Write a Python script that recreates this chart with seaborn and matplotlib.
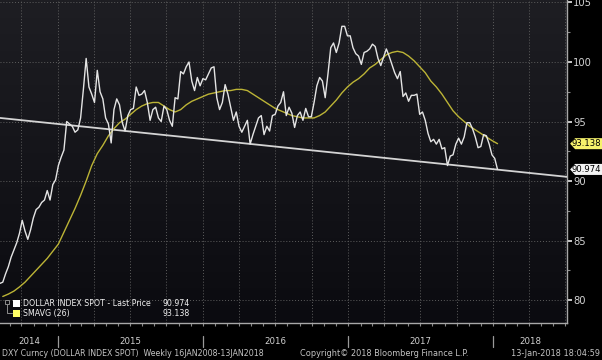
import numpy as np
import pandas as pd
import matplotlib
matplotlib.use("Agg")
import matplotlib.pyplot as plt
import matplotlib.dates as mdates
from matplotlib.path import Path
from matplotlib.patches import Rectangle
from matplotlib.lines import Line2D
from matplotlib.colors import LinearSegmentedColormap
from matplotlib.ticker import NullFormatter
import seaborn as sns

# ---------------- data ----------------
price_start = "2014-08-08"          # weekly closes, Fridays
price_2014 = [81.4, 81.5, 82.2, 82.8, 83.6, 84.2, 84.8, 85.6, 86.7, 85.8, 85.1,
              85.9, 86.9, 87.6, 87.8, 88.2, 88.4, 89.2, 88.4, 89.7, 90.1]
price_2015 = [91.3, 92.0, 92.6, 95.0, 94.8,
              94.6, 94.1, 94.3, 95.3,
              97.7, 100.3, 97.9, 97.3,
              96.6, 99.3, 97.5, 96.9,
              95.3, 94.8, 93.2, 96.0, 96.9,
              96.4, 94.9, 94.2, 95.5,
              96.0, 96.1, 97.9, 97.2, 97.3,
              97.6, 96.6, 95.1, 96.0,
              96.2, 95.3, 95.0, 96.3,
              96.0, 95.1, 94.6, 97.0, 96.9,
              99.2, 99.0, 99.6, 100.0,
              98.4, 97.6, 98.7, 98.0]
price_2016 = [98.6, 98.5, 99.0, 99.5, 99.6,
              97.0, 96.0, 96.6, 98.1,
              97.3, 96.2, 95.1, 95.8,
              94.6, 94.1, 94.6, 95.1, 93.1,
              93.9, 94.6, 95.3, 95.5,
              93.9, 94.6, 94.2, 95.5,
              95.6, 96.3, 96.6, 97.5, 95.5,
              96.2, 95.7, 94.5, 95.5,
              95.8, 95.1, 96.1, 95.4, 95.4,
              96.6, 98.0, 98.7, 98.4,
              97.0, 99.0, 101.2, 101.6,
              100.8, 101.6, 103.0, 103.0, 102.2]
price_2017 = [102.2, 101.2, 100.7, 100.5,
              99.8, 100.8, 100.9, 101.1,
              101.5, 101.3, 100.3, 99.7, 100.4,
              101.1, 100.5, 99.8, 99.1,
              98.6, 99.2, 97.1, 97.4,
              96.7, 97.2, 97.2, 97.3, 95.6,
              95.8, 95.1, 94.0, 93.3,
              93.5, 93.1, 93.5, 92.7,
              92.8, 91.3, 92.1, 92.2, 93.1,
              93.6, 93.1, 93.7, 94.9,
              94.9, 94.4, 93.7, 92.8,
              92.9, 93.9, 93.8, 93.1, 92.2]
price_2018 = [91.9, 90.974]

sma_start = "2014-08-15"            # SMAVG(26), read every second week
sma_values = [80.3, 80.5, 80.75, 81.1, 81.5, 82.0, 82.5, 83.0, 83.5, 84.1,
              84.7, 85.7, 86.7, 87.7, 88.8, 90.0, 91.3, 92.3, 93.0, 93.8,
              94.4, 94.9, 95.2, 95.6, 96.0, 96.3, 96.5, 96.6, 96.6, 96.3,
              96.0, 95.8, 96.0, 96.4, 96.7, 96.9, 97.1, 97.3, 97.4, 97.5,
              97.6, 97.6, 97.7, 97.7, 97.6, 97.3, 97.0, 96.7, 96.4, 96.1,
              95.9, 95.7, 95.5, 95.4, 95.3, 95.3, 95.3, 95.5, 95.8, 96.3,
              96.8, 97.4, 97.9, 98.3, 98.6, 99.0, 99.5, 99.8, 100.2, 100.6,
              100.8, 100.9, 100.8, 100.5, 100.1, 99.6, 99.1, 98.4, 97.9, 97.3,
              96.6, 95.9, 95.4, 95.0, 94.6, 94.3, 94.0, 93.7, 93.4, 93.138]

trend_dates = ["2014-08-08", "2018-07-06"]
trend_values = [95.3, 90.35]

x_range = ["2014-08-08", "2018-07-06"]
y_range = [78.07, 105.21]
year_labels = ["2014", "2015", "2016", "2017", "2018"]
y_ticks = [80, 85, 90, 95, 100, 105]
y_minor_ticks = [82.5, 87.5, 92.5, 97.5, 102.5]

legend_labels = ["DOLLAR INDEX SPOT - Last Price", "SMAVG (26)"]
footer_left = "DXY Curncy (DOLLAR INDEX SPOT)  Weekly 16JAN2008-13JAN2018"
footer_mid = "Copyright\u00a9 2018 Bloomberg Finance L.P."
footer_right = "13-Jan-2018 18:04:59"

# ---------------- styling ----------------
sns.set_style("dark", {"axes.facecolor": "none", "figure.facecolor": "black"})
plt.rcParams["font.family"] = ["DejaVu Sans"]

PRICE_C = "#e4e4e4"
SMA_C = "#bcb436"
TREND_C = "#d4d4d4"
TXT_C = "#d2d2d2"

price = price_2014 + price_2015 + price_2016 + price_2017 + price_2018
df_price = pd.DataFrame({"date": pd.date_range(price_start, periods=len(price), freq="7D"),
                         "value": price})
df_sma = pd.DataFrame({"date": pd.date_range(sma_start, periods=len(sma_values), freq="14D"),
                       "value": sma_values})
df_trend = pd.DataFrame({"date": pd.to_datetime(trend_dates), "value": trend_values})

W, H = 602, 360
fig = plt.figure(figsize=(W / 100, H / 100), dpi=100)
fig.patch.set_facecolor("black")
rect = [0, 37 / H, 567 / W, 323 / H]

# gradient plot background
bg_ax = fig.add_axes(rect, zorder=0)
bg_cmap = LinearSegmentedColormap.from_list("bg", ["#1e1e23", "#0b0b10"])
bg_ax.imshow(np.linspace(0, 1, 256)[:, None], extent=(0, 1, 0, 1), cmap=bg_cmap,
             aspect="auto", interpolation="bilinear")
bg_ax.set_axis_off()

ax = fig.add_axes(rect, zorder=1)
ax.set_facecolor("none")

sns.lineplot(data=df_trend, x="date", y="value", ax=ax, color=TREND_C, linewidth=1.3,
             zorder=3)
sns.lineplot(data=df_sma, x="date", y="value", ax=ax, color=SMA_C, linewidth=1.0,
             zorder=4)
sns.lineplot(data=df_price, x="date", y="value", ax=ax, color=PRICE_C, linewidth=1.0,
             zorder=5)

x0, x1 = pd.Timestamp(x_range[0]), pd.Timestamp(x_range[1])
ax.set_xlim(x0, x1)
ax.set_ylim(*y_range)
ax.set_xlabel("")
ax.set_ylabel("")

# grid + ticks
ax.xaxis.set_major_locator(mdates.MonthLocator(bymonth=[1, 4, 7, 10]))
ax.xaxis.set_minor_locator(mdates.MonthLocator())
ax.xaxis.set_major_formatter(NullFormatter())
ax.set_yticks(y_ticks)
ax.set_yticks(y_minor_ticks, minor=True)
ax.yaxis.tick_right()
ax.grid(True, which="major", axis="both", color="#5e5e5e",
        linestyle=(0, (1, 2)), linewidth=0.7)
ax.tick_params(axis="x", which="both", bottom=True, length=2.5, width=0.8,
               color="#8a8a8a", labelbottom=False)
ax.tick_params(axis="y", which="major", right=True, left=False, length=3.5, width=1.3,
               color="#d6d6d6", labelright=True, labelleft=False, labelsize=7.2,
               labelcolor=TXT_C, pad=0.8)
ax.tick_params(axis="y", which="minor", right=True, left=False, length=2.5, width=0.8,
               color="#8a8a8a")
for side in ["left", "top"]:
    ax.spines[side].set_visible(False)
for side in ["right", "bottom"]:
    ax.spines[side].set_visible(True)
    ax.spines[side].set_color("#a8a8a8")
    ax.spines[side].set_linewidth(1.0)

# year labels and separators below the axis
xt = ax.get_xaxis_transform()
def frac(py):
    return (323 - py) / 323
for lab in year_labels:
    s = max(pd.Timestamp(f"{lab}-01-01"), x0)
    e = min(pd.Timestamp(f"{int(lab) + 1}-01-01"), x1)
    mid = s + (e - s) / 2
    ax.text(mdates.date2num(mid), frac(342), lab, transform=xt, ha="center", va="center",
            fontsize=6.2, color=TXT_C, clip_on=False)
    ys = pd.Timestamp(f"{lab}-01-01")
    if x0 < ys < x1:
        ax.add_line(Line2D([mdates.date2num(ys)] * 2, [frac(336), frac(347)],
                           transform=xt, color="#9a9a9a", linewidth=0.9, clip_on=False))

# last-value tags on the right axis
def tag_style(x0_, y0_, width, height, mutation_size):
    padx = 0.22 * mutation_size
    pady = 0.12 * mutation_size
    xa = x0_ - padx
    xb = x0_ + width + padx
    ya = y0_ - pady
    yb = y0_ + height + pady
    tip = (yb - ya) * 0.45
    verts = [(xa, (ya + yb) / 2), (xa + tip, yb), (xb, yb), (xb, ya), (xa + tip, ya),
             (xa, (ya + yb) / 2)]
    return Path(verts, closed=True)

for val, fc in [(sma_values[-1], "#f6f26c"), (price[-1], "#f4f4f4")]:
    ax.annotate(f"{val:.3f}", xy=(1.0, val), xycoords=("axes fraction", "data"),
                xytext=(5, 0), textcoords="offset pixels", ha="left", va="center",
                fontsize=6.1, color="black", annotation_clip=False, zorder=10,
                bbox=dict(boxstyle=tag_style, fc=fc, ec="none"))

# legend (bottom-left, Bloomberg style)
def fx(px):
    return px / W
def fy(py):
    return 1 - py / H

fig.add_artist(Rectangle((fx(13), fy(306.5)), 7 / W, 7 / H, transform=fig.transFigure,
                         facecolor="white", edgecolor="none", zorder=10))
fig.add_artist(Rectangle((fx(13), fy(316.5)), 7 / W, 7 / H, transform=fig.transFigure,
                         facecolor="#ffff66", edgecolor="none", zorder=10))
fig.add_artist(Rectangle((fx(5), fy(304)), 4 / W, 4 / H, transform=fig.transFigure,
                         facecolor="none", edgecolor="#8c8c8c", linewidth=0.7, zorder=10))
fig.add_artist(Line2D([fx(7), fx(7), fx(12)], [fy(304), fy(313), fy(313)],
                      transform=fig.transFigure, color="#8c8c8c", linewidth=0.7, zorder=10))
LEG_FS = 5.7
fig.text(fx(23), fy(303), legend_labels[0], ha="left", va="center", fontsize=LEG_FS,
         color="#f0f0f0", zorder=11)
fig.text(fx(190), fy(303), f"{price[-1]:.3f}", ha="right", va="center", fontsize=LEG_FS,
         color="#f0f0f0", zorder=11)
fig.text(fx(23), fy(313.5), legend_labels[1], ha="left", va="center", fontsize=LEG_FS,
         color="#f0f0f0", zorder=11)
fig.text(fx(190), fy(313.5), f"{sma_values[-1]:.3f}", ha="right", va="center",
         fontsize=LEG_FS, color="#f0f0f0", zorder=11)

# footer
fig.text(fx(2), fy(354), footer_left, ha="left", va="center", fontsize=5.7, color="#c4c4c4")
fig.text(fx(300), fy(354), footer_mid, ha="left", va="center", fontsize=5.9, color="#c4c4c4")
fig.text(fx(600), fy(354), footer_right, ha="right", va="center", fontsize=5.9,
         color="#c4c4c4")

fig.savefig("out.png", dpi=100, facecolor="black")
